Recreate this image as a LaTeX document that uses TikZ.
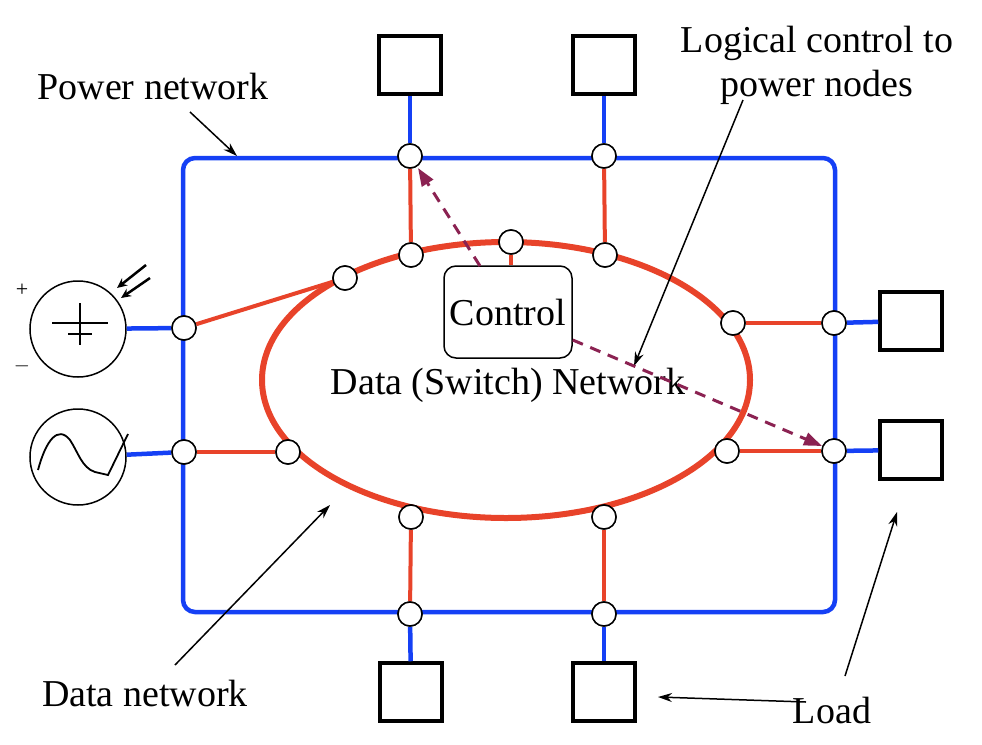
\documentclass[tikz,border=0pt]{standalone}
\usepackage{fontspec}
\setmainfont{Liberation Serif}
\usetikzlibrary{arrows.meta}
\definecolor{pb}{HTML}{1540F5}
\definecolor{dr}{HTML}{E8432A}
\definecolor{pu}{HTML}{8B2252}
\begin{document}
\begin{tikzpicture}[x=1pt,y=-1pt,
 jn/.style={circle,draw=black,fill=white,line width=1.5pt,minimum size=24pt,inner sep=0pt},
 load/.style={draw=black,line width=3.5pt,minimum width=62pt,minimum height=58pt,inner sep=0pt},
 src/.style={circle,draw=black,line width=1.5pt,minimum size=96pt,inner sep=0pt},
 pw/.style={pb,line width=4.5pt},
 lbl/.style={font=\fontsize{38}{44}\selectfont,align=center},
 ann/.style={-{Stealth[length=14pt,width=9pt]},line width=1.5pt},
 ctl/.style={pu,dashed,dash pattern=on 11pt off 8pt,line width=3pt,-{Triangle[length=18pt,width=13pt]}}]
\useasboundingbox (0,0) rectangle (982,744);
\draw[pw,rounded corners=12pt] (183,158) rectangle (835,612);
\draw[dr,line width=6pt] (506,380) ellipse [x radius=244,y radius=138];
\node[load] (lt1) at (410,65) {};
\node[load] (lt2) at (604,65) {};
\node[load] (lr1) at (911,321) {};
\node[load] (lr2) at (911,450) {};
\node[load] (lb1) at (411,692) {};
\node[load] (lb2) at (604,692) {};
\node[src] (dc) at (78,329) {};
\node[src] (ac) at (78,457) {};
\node[jn] (pt1) at (410,156) {};
\node[jn] (pt2) at (604,156) {};
\node[jn] (et1) at (411,255) {};
\node[jn] (et2) at (605,255) {};
\node[jn] (etc) at (511,242) {};
\node[jn] (pr1) at (834,323) {};
\node[jn] (er1) at (733,323) {};
\node[jn] (pr2) at (834,451) {};
\node[jn] (er2) at (727,451) {};
\node[jn] (pl1) at (184,328) {};
\node[jn] (pl2) at (184,452) {};
\node[jn] (el2) at (288,452) {};
\node[jn] (el1) at (345,278) {};
\node[jn] (eb1) at (411,517) {};
\node[jn] (eb2) at (604,517) {};
\node[jn] (pb1) at (410,614) {};
\node[jn] (pb2) at (604,614) {};
\node[draw=black,line width=1.5pt,rounded corners=12pt,minimum width=128pt,minimum height=92pt,inner sep=2pt,lbl] (ctrl) at (508,312) {Control};
\draw[pw] (lt1) -- (pt1); \draw[pw] (lt2) -- (pt2);
\draw[pw] (lr1) -- (pr1); \draw[pw] (lr2) -- (pr2);
\draw[pw] (lb1) -- (pb1); \draw[pw] (lb2) -- (pb2);
\draw[pw] (dc) -- (pl1); \draw[pw] (ac) -- (pl2);
\tikzset{rl/.style={dr,line width=4pt}}
\draw[rl] (pt1) -- (et1); \draw[rl] (pt2) -- (et2);
\draw[rl] (er1) -- (pr1); \draw[rl] (er2) -- (pr2);
\draw[rl] (pl1) -- (el1); \draw[rl] (pl2) -- (el2);
\draw[rl] (eb1) -- (pb1); \draw[rl] (eb2) -- (pb2);
\draw[rl] (etc) -- (ctrl.north -| etc);
\foreach \n in {pt1,pt2,et1,et2,etc,pr1,er1,pr2,er2,pl1,pl2,el2,el1,eb1,eb2,pb1,pb2}
  \draw[black,fill=white,line width=1.5pt] (\n) circle (12pt);
\draw[line width=1.5pt] (52,323) -- (108,323) (80,303) -- (80,345) (68,334) -- (92,334);
\node[font=\fontsize{22}{24}\selectfont] (plus) at (22,290) {+};
\node[font=\fontsize{22}{24}\selectfont] (minus) at (22,366) {$-$};
\draw[-{Stealth[length=10pt,width=9pt]},line width=2.5pt] (146,265) -- (117,288);
\draw[-{Stealth[length=10pt,width=9pt]},line width=2.5pt] (150,278) -- (121,298);
\draw[line width=1.8pt] (38,470) .. controls (46,440) and (58,425) .. (70,440) .. controls (78,452) and (82,468) .. (95,472) -- (108,475) -- (128,434);
\node[lbl] (dsn) at (508,385) {Data (Switch) Network};
\node[lbl] (pnl) at (153,87) {Power network};
\coordinate (pnt) at (237,156);
\draw[ann] (190,112) -- (pnt);
\node[lbl] (lcl) at (817,65) {Logical control to\\power nodes};
\coordinate (lct) at (634,366);
\draw[ann] (743,100) -- (lct);
\node[lbl] (dnl) at (145,693) {Data network};
\coordinate (dnt) at (330,505);
\draw[ann] (175,665) -- (dnt);
\node[lbl] (ldl) at (832,710) {Load};
\draw[ann] (806,702) -- (658,697);
\draw[ann] (845,676) -- (897,512);
\draw[ctl] (480,266) -- (418,168);
\draw[ctl] (ctrl.east |- 0,340) -- (822,446);
\end{tikzpicture}
\end{document}
